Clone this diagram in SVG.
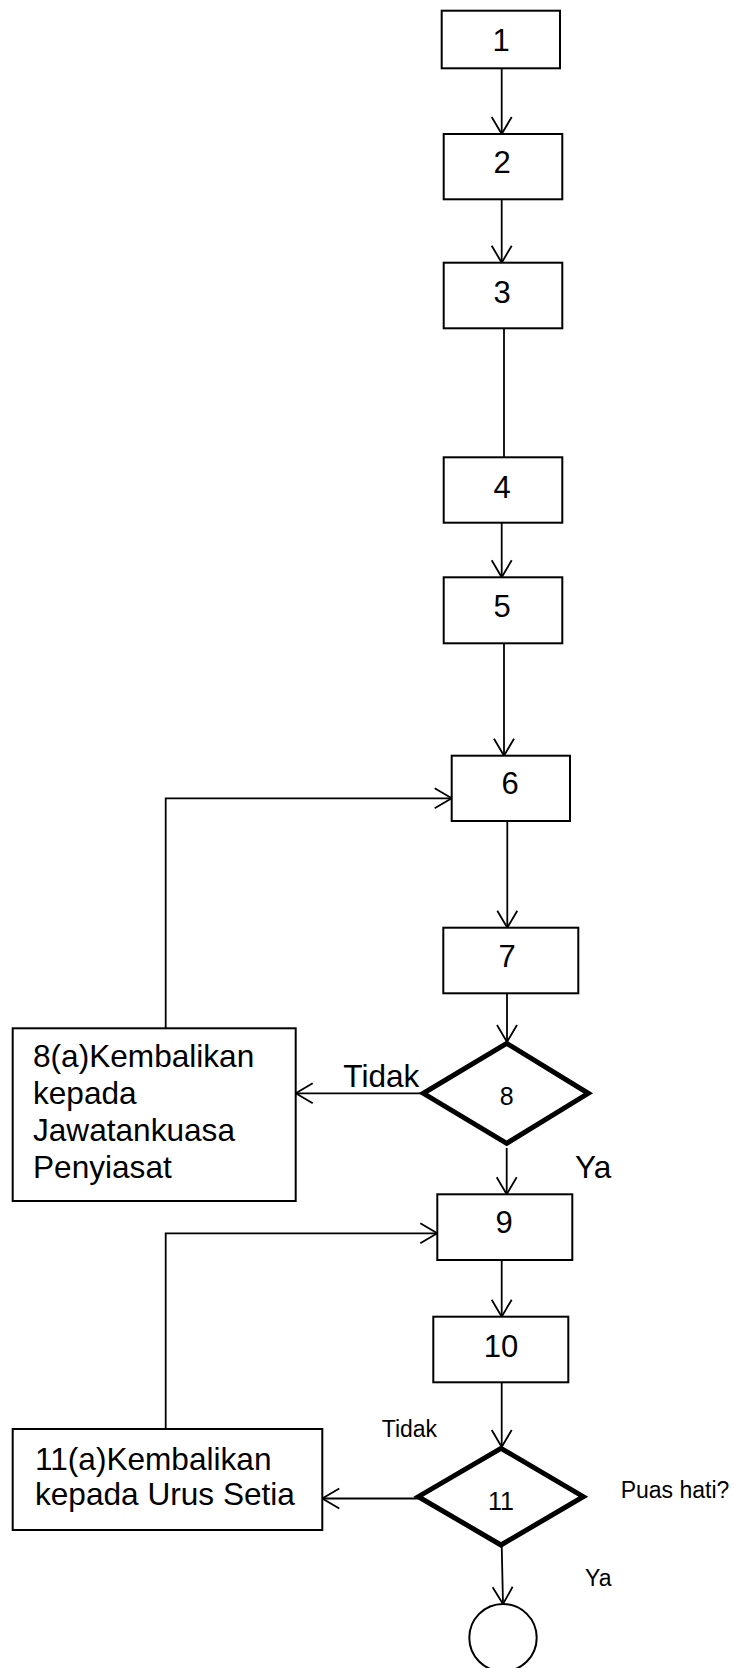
<svg xmlns="http://www.w3.org/2000/svg" width="735" height="1668" viewBox="0 0 735 1668">
<style>
.box{fill:#fff;stroke:#000;stroke-width:2}
.dia{fill:#fff;stroke:#000;stroke-width:5;stroke-linejoin:miter}
.ln{fill:none;stroke:#000;stroke-width:1.8}
.arr{marker-end:url(#ah)}
text{font-family:"Liberation Sans",Arial,sans-serif;fill:#000}
.lbl{font-size:31px;text-anchor:middle}
.dl{font-size:25px;text-anchor:middle}
.bt{font-size:31.6px}
.sm{font-size:23px}
</style>
<defs>
<marker id="ah" markerUnits="userSpaceOnUse" viewBox="-19 -12 21 24" refX="0" refY="0" markerWidth="21" markerHeight="24" orient="auto">
<path d="M-17,-10 L0,0 L-17,10" fill="none" stroke="#000" stroke-width="1.8"/>
</marker>
</defs>
<rect width="735" height="1668" fill="#fff"/>
<g id="connectors">
<line class="ln arr" x1="501.7" y1="68.3" x2="501.7" y2="134"/>
<line class="ln arr" x1="501.7" y1="199.3" x2="501.7" y2="262.7"/>
<line class="ln" x1="504" y1="328.3" x2="504" y2="457.3"/>
<line class="ln arr" x1="501.7" y1="522.7" x2="501.7" y2="577.3"/>
<line class="ln arr" x1="504" y1="643.3" x2="504" y2="755.7"/>
<line class="ln arr" x1="507.3" y1="821" x2="507.3" y2="927.7"/>
<line class="ln arr" x1="507" y1="993.3" x2="507" y2="1042"/>
<line class="ln arr" x1="423" y1="1093.3" x2="295.7" y2="1093.3"/>
<polyline class="ln arr" points="165.7,1028.3 165.7,798.3 451.7,798.3"/>
<line class="ln arr" x1="506.7" y1="1148" x2="506.7" y2="1194.3"/>
<line class="ln arr" x1="501.7" y1="1260" x2="501.7" y2="1316.7"/>
<line class="ln arr" x1="501.7" y1="1382.3" x2="501.7" y2="1447"/>
<line class="ln arr" x1="418" y1="1498.5" x2="322.3" y2="1498.5"/>
<polyline class="ln arr" points="165.7,1428.3 165.7,1233.3 437.3,1233.3"/>
<line class="ln arr" x1="501.7" y1="1545" x2="503" y2="1604"/>
</g>
<g id="n1"><rect class="box" x="441.7" y="10.7" width="118.3" height="57.6"/><text class="lbl" x="501" y="50.7">1</text></g>
<g id="n2"><rect class="box" x="443.7" y="134" width="118.6" height="65.3"/><text class="lbl" x="502" y="173.3">2</text></g>
<g id="n3"><rect class="box" x="443.7" y="262.7" width="118.6" height="65.6"/><text class="lbl" x="502" y="302.7">3</text></g>
<g id="n4"><rect class="box" x="443.7" y="457.3" width="118.6" height="65.4"/><text class="lbl" x="502" y="498.3">4</text></g>
<g id="n5"><rect class="box" x="443.7" y="577.3" width="118.6" height="66"/><text class="lbl" x="502" y="616.7">5</text></g>
<g id="n6"><rect class="box" x="451.7" y="755.7" width="118.3" height="65.3"/><text class="lbl" x="510" y="794">6</text></g>
<g id="n7"><rect class="box" x="443.3" y="927.7" width="135" height="65.6"/><text class="lbl" x="507" y="967.3">7</text></g>
<g id="n8"><polygon class="dia" points="506.7,1043.3 588.3,1093.3 506.7,1143.3 423.3,1093.3"/><text class="dl" x="506.7" y="1105">8</text></g>
<g id="n8a"><rect class="box" x="12.7" y="1028.3" width="283" height="172.7"/>
<text class="bt" x="33" y="1067">8(a)Kembalikan</text>
<text class="bt" x="33" y="1104">kepada</text>
<text class="bt" x="33" y="1141">Jawatankuasa</text>
<text class="bt" x="33" y="1178">Penyiasat</text></g>
<g id="n9"><rect class="box" x="437.3" y="1194.3" width="135" height="65.7"/><text class="lbl" x="504" y="1233.3">9</text></g>
<g id="n10"><rect class="box" x="433.3" y="1316.7" width="135" height="65.6"/><text class="lbl" x="501" y="1356.7">10</text></g>
<g id="n11"><polygon class="dia" points="501,1448.3 583.3,1496.7 501,1545 418.3,1496.7"/><text class="dl" x="501" y="1510">11</text></g>
<g id="n11a"><rect class="box" x="12.7" y="1429" width="309.6" height="101"/>
<text class="bt" x="35" y="1470">11(a)Kembalikan</text>
<text class="bt" x="35" y="1505">kepada Urus Setia</text></g>
<g id="end"><circle cx="503" cy="1637.7" r="33.7" fill="#fff" stroke="#000" stroke-width="2"/></g>
<g id="labels">
<text class="bt" x="343.3" y="1087.3">Tidak</text>
<text class="bt" x="575" y="1178.3">Ya</text>
<text class="sm" x="381.7" y="1436.7">Tidak</text>
<text class="sm" x="620.7" y="1498.3">Puas hati?</text>
<text class="sm" x="585" y="1585.7">Ya</text>
</g>
</svg>
